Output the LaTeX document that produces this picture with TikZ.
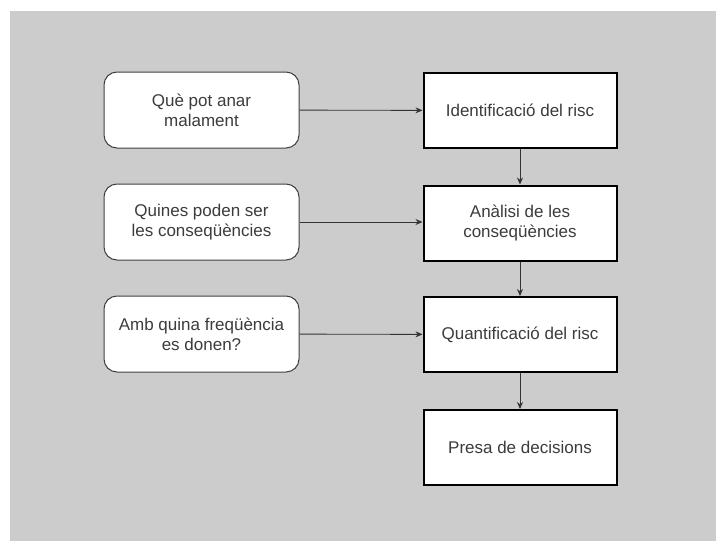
\documentclass[tikz,border=0pt]{standalone}
\usepackage{fontspec}
\setmainfont{Liberation Sans}
\usetikzlibrary{arrows.meta}

\definecolor{bggray}{HTML}{CCCCCC}
\definecolor{txtgray}{HTML}{3C3C3C}

\begin{document}
\begin{tikzpicture}[x=1pt,y=-1pt,
  question/.style={draw=black!75,line width=1pt,fill=white,rounded corners=13pt,minimum width=195pt,minimum height=76pt,align=center,text=txtgray,font=\fontsize{17}{20}\selectfont},
  stage/.style={draw=black,line width=2pt,fill=white,minimum width=193pt,minimum height=75pt,align=center,text=txtgray,font=\fontsize{17}{20}\selectfont},
  link/.style={draw=black!80,line width=0.9pt,-{Stealth[length=7pt,width=6pt]}}]
  %background
  \useasboundingbox (0,0) rectangle (716,541);
  \fill[bggray] (10,11) rectangle (716,541);
  %questions
  \node[question] (q1) at (201.5,110) {Què pot anar\\malament};
  \node[question] (q2) at (201.5,222) {Quines poden ser\\les conseqüències};
  \node[question] (q3) at (201.5,334) {Amb quina freqüència\\es donen?};
  %stages
  \node[stage] (s1) at (520,110.5) {Identificació del risc};
  \node[stage] (s2) at (520,223) {Anàlisi de les\\conseqüències};
  \node[stage] (s3) at (520,334.5) {Quantificació del risc};
  \node[stage] (s4) at (520,447.5) {Presa de decisions};
  %arrows
  \draw[link] (q1) -- (s1);
  \draw[link] (q2.east) -- (q2.east -| s2.west);
  \draw[link] (q3) -- (s3);
  \draw[link] (s1) -- (s2);
  \draw[link] (s2) -- (s3);
  \draw[link] (s3) -- (s4);
\end{tikzpicture}
\end{document}
